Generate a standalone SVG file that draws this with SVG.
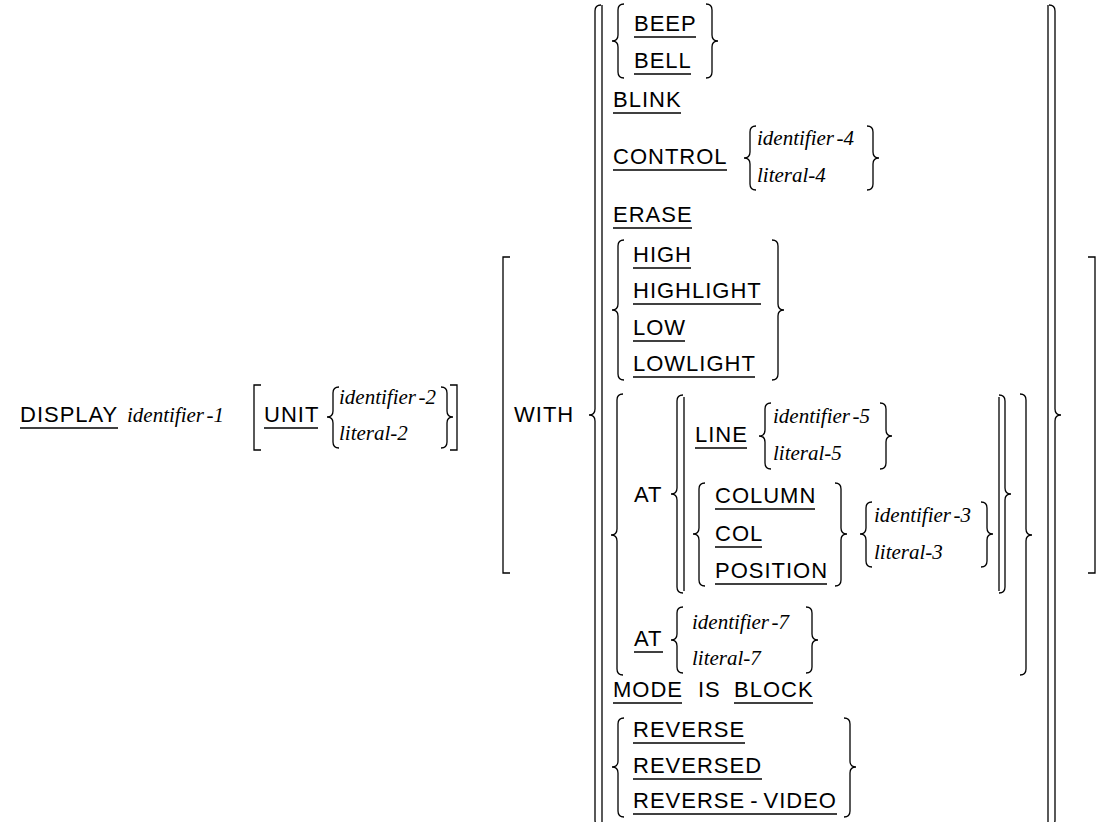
<svg xmlns="http://www.w3.org/2000/svg" width="1102" height="822" viewBox="0 0 1102 822">
<style>
.k{font-family:"Liberation Sans",Arial,sans-serif;font-size:22px;letter-spacing:1px;fill:#000}
.v{font-family:"Liberation Serif","Times New Roman",serif;font-size:21px;font-style:italic;fill:#000}
.b{fill:none;stroke:#000;stroke-width:1.3}
.u{stroke:#000;stroke-width:1.5}
</style>
<rect width="1102" height="822" fill="#fff"/>
<g id="display">
<text class="k" x="20" y="422">DISPLAY</text><line class="u" x1="20" y1="428" x2="118" y2="428"/>
<text class="v" x="127" y="422">identifier<tspan dx="3">-1</tspan></text>
</g>
<g id="unit-clause">
<path class="b" d="M261 385 L254 385 L254 450 L261 450"/>
<text class="k" x="264" y="422">UNIT</text><line class="u" x1="264" y1="428" x2="318" y2="428"/>
<path class="b" d="M339 387 Q333 387 333 393 L333 411 Q333 417 327 417 Q333 417 333 423 L333 442 Q333 448 339 448"/>
<text class="v" x="339" y="404">identifier<tspan dx="3">-2</tspan></text>
<text class="v" x="339" y="440">literal-2</text>
<path class="b" d="M441 387 Q447 387 447 393 L447 411 Q447 417 453 417 Q447 417 447 423 L447 442 Q447 448 441 448"/>
<path class="b" d="M450 385 L457 385 L457 450 L450 450"/>
</g>
<g id="with-clause">
<path class="b" d="M510 257 L503 257 L503 573 L510 573"/>
<text class="k" x="514" y="422">WITH</text>
<path class="b" d="M601 5 Q595 5 595 11 L595 409 Q595 415 589 415 Q595 415 595 421 L595 820 Q595 826 601 826"/>
<line class="b" x1="602" y1="5" x2="602" y2="826"/>
<line class="b" x1="1048" y1="5" x2="1048" y2="826"/>
<path class="b" d="M1049 5 Q1055 5 1055 11 L1055 409 Q1055 415 1061 415 Q1055 415 1055 421 L1055 820 Q1055 826 1049 826"/>
<path class="b" d="M1088 257 L1095 257 L1095 573 L1088 573"/>
</g>
<g id="beep-bell">
<path class="b" d="M624 4 Q618 4 618 10 L618 35 Q618 41 612 41 Q618 41 618 47 L618 72 Q618 78 624 78"/>
<text class="k" x="634" y="31">BEEP</text><line class="u" x1="634" y1="37" x2="696" y2="37"/>
<text class="k" x="634" y="68">BELL</text><line class="u" x1="634" y1="74" x2="691" y2="74"/>
<path class="b" d="M706 4 Q712 4 712 10 L712 35 Q712 41 718 41 Q712 41 712 47 L712 72 Q712 78 706 78"/>
</g>
<g id="blink">
<text class="k" x="613" y="107">BLINK</text><line class="u" x1="613" y1="113" x2="681" y2="113"/>
</g>
<g id="control">
<text class="k" x="613" y="164">CONTROL</text><line class="u" x1="613" y1="170" x2="727" y2="170"/>
<path class="b" d="M756 126 Q750 126 750 132 L750 152 Q750 158 744 158 Q750 158 750 164 L750 184 Q750 190 756 190"/>
<text class="v" x="757" y="145">identifier<tspan dx="3">-4</tspan></text>
<text class="v" x="757" y="182">literal-4</text>
<path class="b" d="M867 126 Q873 126 873 132 L873 152 Q873 158 879 158 Q873 158 873 164 L873 184 Q873 190 867 190"/>
</g>
<g id="erase">
<text class="k" x="613" y="222">ERASE</text><line class="u" x1="613" y1="228" x2="692" y2="228"/>
</g>
<g id="high-low">
<path class="b" d="M624 240 Q618 240 618 246 L618 304 Q618 310 612 310 Q618 310 618 316 L618 374 Q618 380 624 380"/>
<text class="k" x="633" y="262">HIGH</text><line class="u" x1="633" y1="268" x2="691" y2="268"/>
<text class="k" x="633" y="298">HIGHLIGHT</text><line class="u" x1="633" y1="304" x2="761" y2="304"/>
<text class="k" x="633" y="335">LOW</text><line class="u" x1="633" y1="341" x2="685" y2="341"/>
<text class="k" x="633" y="371">LOWLIGHT</text><line class="u" x1="633" y1="377" x2="755" y2="377"/>
<path class="b" d="M772 240 Q778 240 778 246 L778 304 Q778 310 784 310 Q778 310 778 316 L778 374 Q778 380 772 380"/>
</g>
<g id="at-group">
<path class="b" d="M623 394 Q617 394 617 400 L617 529 Q617 535 611 535 Q617 535 617 541 L617 669 Q617 675 623 675"/>
<path class="b" d="M1020 394 Q1026 394 1026 400 L1026 529 Q1026 535 1032 535 Q1026 535 1026 541 L1026 669 Q1026 675 1020 675"/>
</g>
<g id="at-line-column">
<text class="k" x="634" y="502">AT</text>
<path class="b" d="M683 395 Q677 395 677 401 L677 488 Q677 494 671 494 Q677 494 677 500 L677 587 Q677 593 683 593"/>
<line class="b" x1="684" y1="397" x2="684" y2="591"/>
<line class="b" x1="999" y1="397" x2="999" y2="591"/>
<path class="b" d="M999 395 Q1005 395 1005 401 L1005 488 Q1005 494 1011 494 Q1005 494 1005 500 L1005 587 Q1005 593 999 593"/>
</g>
<g id="line">
<text class="k" x="695" y="442">LINE</text><line class="u" x1="695" y1="448" x2="747" y2="448"/>
<path class="b" d="M771 403 Q765 403 765 409 L765 430 Q765 436 759 436 Q765 436 765 442 L765 463 Q765 469 771 469"/>
<text class="v" x="773" y="423">identifier<tspan dx="3">-5</tspan></text>
<text class="v" x="773" y="460">literal-5</text>
<path class="b" d="M880 403 Q886 403 886 409 L886 430 Q886 436 892 436 Q886 436 886 442 L886 463 Q886 469 880 469"/>
</g>
<g id="column">
<path class="b" d="M705 483 Q699 483 699 489 L699 528 Q699 534 693 534 Q699 534 699 540 L699 580 Q699 586 705 586"/>
<text class="k" x="715" y="503">COLUMN</text><line class="u" x1="715" y1="509" x2="815" y2="509"/>
<text class="k" x="715" y="541">COL</text><line class="u" x1="715" y1="547" x2="762" y2="547"/>
<text class="k" x="715" y="578">POSITION</text><line class="u" x1="715" y1="584" x2="827" y2="584"/>
<path class="b" d="M835 483 Q841 483 841 489 L841 528 Q841 534 847 534 Q841 534 841 540 L841 580 Q841 586 835 586"/>
<path class="b" d="M872 502 Q866 502 866 508 L866 528 Q866 534 860 534 Q866 534 866 540 L866 561 Q866 567 872 567"/>
<text class="v" x="874" y="522">identifier<tspan dx="3">-3</tspan></text>
<text class="v" x="874" y="559">literal-3</text>
<path class="b" d="M981 502 Q987 502 987 508 L987 528 Q987 534 993 534 Q987 534 987 540 L987 561 Q987 567 981 567"/>
</g>
<g id="at-literal">
<text class="k" x="634" y="646">AT</text><line class="u" x1="634" y1="652" x2="663" y2="652"/>
<path class="b" d="M683 607 Q677 607 677 613 L677 634 Q677 640 671 640 Q677 640 677 646 L677 667 Q677 673 683 673"/>
<text class="v" x="692" y="629">identifier<tspan dx="3">-7</tspan></text>
<text class="v" x="692" y="665">literal-7</text>
<path class="b" d="M806 607 Q812 607 812 613 L812 634 Q812 640 818 640 Q812 640 812 646 L812 667 Q812 673 806 673"/>
</g>
<g id="mode">
<text class="k" x="613" y="697">MODE</text><line class="u" x1="613" y1="703" x2="682" y2="703"/>
<text class="k" x="698" y="697">IS</text>
<text class="k" x="734" y="697">BLOCK</text><line class="u" x1="734" y1="703" x2="813" y2="703"/>
</g>
<g id="reverse">
<path class="b" d="M624 718 Q618 718 618 724 L618 761 Q618 767 612 767 Q618 767 618 773 L618 811 Q618 817 624 817"/>
<text class="k" x="633" y="737">REVERSE</text><line class="u" x1="633" y1="743" x2="745" y2="743"/>
<text class="k" x="633" y="773">REVERSED</text><line class="u" x1="633" y1="779" x2="762" y2="779"/>
<text class="k" x="633" y="808">REVERSE<tspan dx="5">-</tspan><tspan dx="5">VIDEO</tspan></text><line class="u" x1="633" y1="814" x2="837" y2="814"/>
<path class="b" d="M844 718 Q850 718 850 724 L850 761 Q850 767 856 767 Q850 767 850 773 L850 811 Q850 817 844 817"/>
</g>
</svg>
